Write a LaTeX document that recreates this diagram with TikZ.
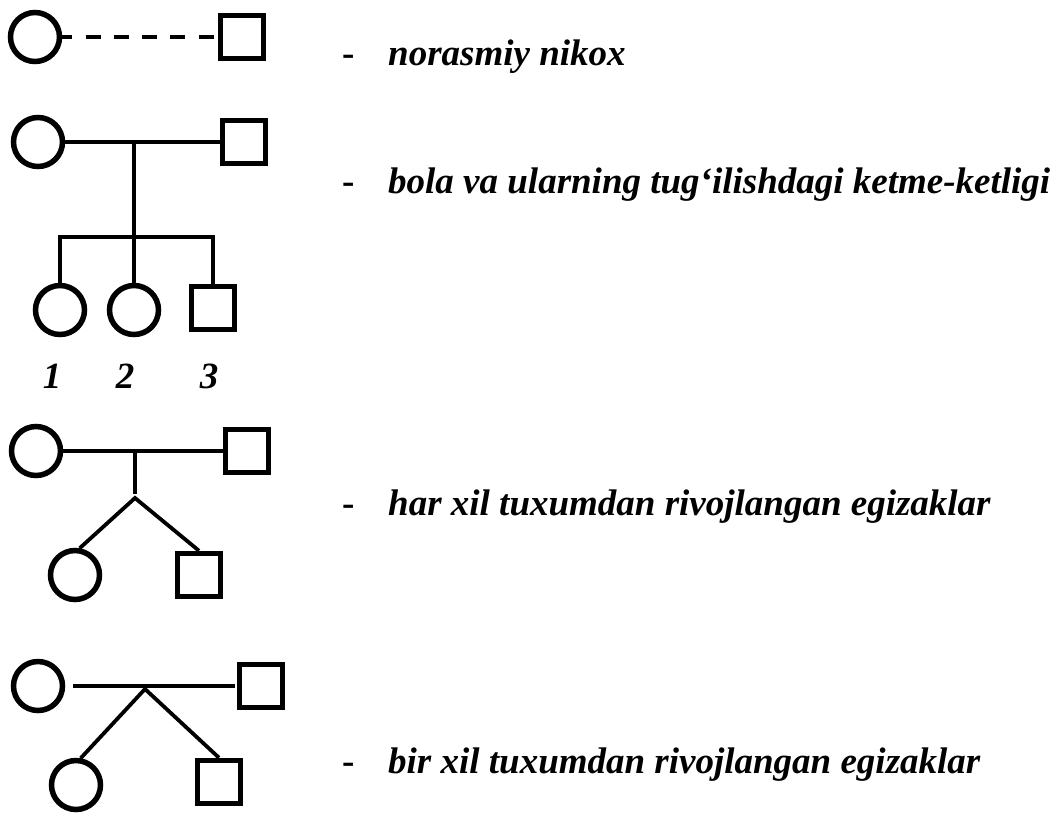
\documentclass[tikz,border=0pt]{standalone}
\usepackage{fontspec}
\setmainfont{Liberation Serif}
\usepackage{tikz}
\usetikzlibrary{positioning}
\tikzset{
  female/.style={circle, draw, line width=5.5pt, minimum size=49pt, inner sep=0pt},
  male/.style={rectangle, draw, line width=5.5pt, minimum size=43pt, inner sep=0pt},
  link/.style={line width=3.8pt},
  note/.style={anchor=base west, inner sep=0pt, font=\fontsize{37}{44}\selectfont\bfseries\itshape},
  hyph/.style={anchor=base west, inner sep=0pt, font=\fontsize{37}{44}\selectfont\bfseries},
  num/.style={anchor=base, inner sep=0pt, font=\fontsize{37}{44}\selectfont\bfseries\itshape}
}
\begin{document}
\begin{tikzpicture}[x=1pt, y=-1pt]
  \useasboundingbox (0,0) rectangle (1062,812);
  % norasmiy nikox
  \node[female] (c1) at (35,37) {};
  \node[male] (s1) at (242,37) {};
  \draw[link, dash pattern=on 15pt off 13.3pt, dash phase=5pt] (c1) -- (s1);
  \node[hyph] (d1) at (342,65) {-};
  \node[note] (t1) at (388,65) {norasmiy nikox};
  % bola
  \node[female] (c2) at (38,142) {};
  \node[male] (s2) at (244,142) {};
  \coordinate (m2) at (134,142);
  \coordinate (bar) at (134,237);
  \node[female] (k1) at (60,310) {};
  \node[female] (k2) at (134,310) {};
  \node[male] (k3) at (213,308) {};
  \draw[link] (c2) -- (s2);
  \draw[link] (m2) -- (k2.north);
  \draw[link] (k1.north) |- (bar) -| (k3.north);
  \node[num] (n1) at (52,388) {1};
  \node[num] (n2) at (125,388) {2};
  \node[num] (n3) at (209,388) {3};
  \node[hyph] (d2) at (342,193) {-};
  \node[note] (t2) at (388,193) {bola va ularning tug‘ilishdagi ketme-ketligi};
  % har xil
  \node[female] (c3) at (36,451) {};
  \node[male] (s3) at (247,451) {};
  \coordinate (m3) at (135,452);
  \coordinate (v3) at (135,494);
  \coordinate (ap3) at (135,498);
  \node[female] (g1) at (75,575) {};
  \node[male] (g2) at (199,575) {};
  \draw[link] (c3) -- (s3);
  \draw[link] (m3) -- (v3);
  \draw[link] (g1.80) -- (ap3) -- (g2.north);
  \node[hyph] (d3) at (342,515) {-};
  \node[note] (t3) at (388,515) {har xil tuxumdan rivojlangan egizaklar};
  % bir xil
  \node[female] (c4) at (38,686) {};
  \node[male] (s4) at (261,686) {};
  \coordinate (ap4) at (145,689);
  \node[female] (e1) at (76,785) {};
  \node[male] (e2) at (219,782) {};
  \draw[link, shorten <=8pt, shorten >=2pt] (c4) -- (s4);
  \draw[link] (e1.80) -- (ap4) -- (e2.north);
  \node[hyph] (d4) at (342,773) {-};
  \node[note] (t4) at (388,773) {bir xil tuxumdan rivojlangan egizaklar};
\end{tikzpicture}
\end{document}
